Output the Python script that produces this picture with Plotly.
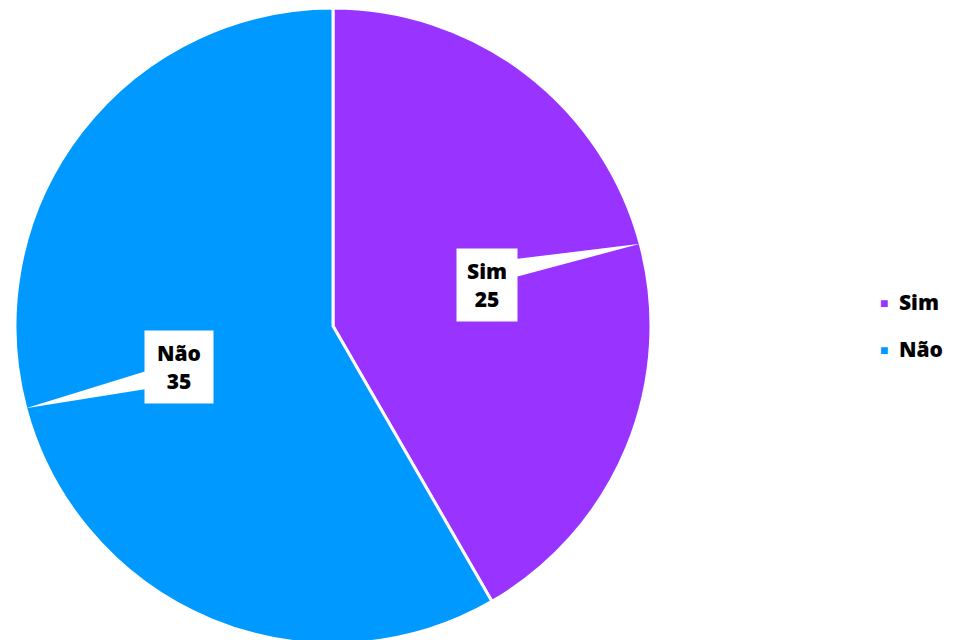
import math
import plotly.graph_objects as go

categories = ["Sim", "Não"]
values = [25, 35]
colors = ["#9933FF", "#0099FF"]

W, H = 955, 640
FONT = "Open Sans"
OFF = 8  # default body margin of the html page

# pie geometry in page pixels
cx, cy, r = 333 - OFF, 326 - OFF, 318
dom_x = [(cx - r) / W, (cx + r) / W]
dom_y = [max(0, (H - (cy + r)) / H), min(1, (H - (cy - r)) / H)]

fig = go.Figure(go.Pie(
    labels=categories, values=values, sort=False, direction="clockwise",
    rotation=0, marker=dict(colors=colors, line=dict(color="white", width=3)),
    textinfo="none", hoverinfo="label+value", showlegend=False,
    domain=dict(x=dom_x, y=dom_y),
))

def px(x, y):
    return x / W, 1 - y / H

total = sum(values)
shapes, annotations = [], []
start = 0.0
box_half = {"Sim": (29, 35), "Não": (33, 35)}
wedge_shift = {"Sim": -9, "Não": 4}
for lab, val in zip(categories, values):
    mid = (start + val / 2) / total * 2 * math.pi
    start += val
    tip = (cx + r * math.sin(mid), cy - r * math.cos(mid))
    bc = (cx + 0.5 * r * math.sin(mid), cy - 0.5 * r * math.cos(mid))
    hw, hh = box_half[lab]
    side = hw if tip[0] > bc[0] else -hw
    bx = bc[0] + side
    by = bc[1] + (tip[1] - bc[1]) * (side / (tip[0] - bc[0])) + wedge_shift[lab]
    p1 = px(bx, by - 9); p2 = px(bx, by + 9); p3 = px(*tip)
    shapes.append(dict(type="path", xref="paper", yref="paper",
                       path=f"M {p1[0]},{p1[1]} L {p3[0]},{p3[1]} L {p2[0]},{p2[1]} Z",
                       fillcolor="white", line=dict(width=0), layer="above"))
    ax, ay = px(*bc)
    annotations.append(dict(x=ax, y=ay, xref="paper", yref="paper", showarrow=False,
                            xanchor="center", yanchor="middle",
                            text=f"{lab}<br>{val}", bgcolor="white",
                            width=2 * hw, height=2 * hh, align="center", valign="middle",
                            font=dict(family=FONT, size=21, color="black", weight=800)))

# legend
leg_y = [302 - OFF, 349 - OFF]
for lab, col, ly in zip(categories, colors, leg_y):
    sx, sy = px(884 - OFF, ly)
    annotations.append(dict(x=sx, y=sy, xref="paper", yref="paper", showarrow=False,
                            text="■", xanchor="center", yanchor="middle",
                            font=dict(size=14, color=col)))
    tx, ty = px(897 - OFF, ly)
    annotations.append(dict(x=tx, y=ty, xref="paper", yref="paper", showarrow=False,
                            text=lab, xanchor="left", yanchor="middle",
                            font=dict(family=FONT, size=21, color="black", weight=800)))

fig.update_layout(width=W, height=H, margin=dict(l=0, r=0, t=0, b=0),
                  paper_bgcolor="white", plot_bgcolor="white",
                  shapes=shapes, annotations=annotations)
fig.write_html("out.html")
